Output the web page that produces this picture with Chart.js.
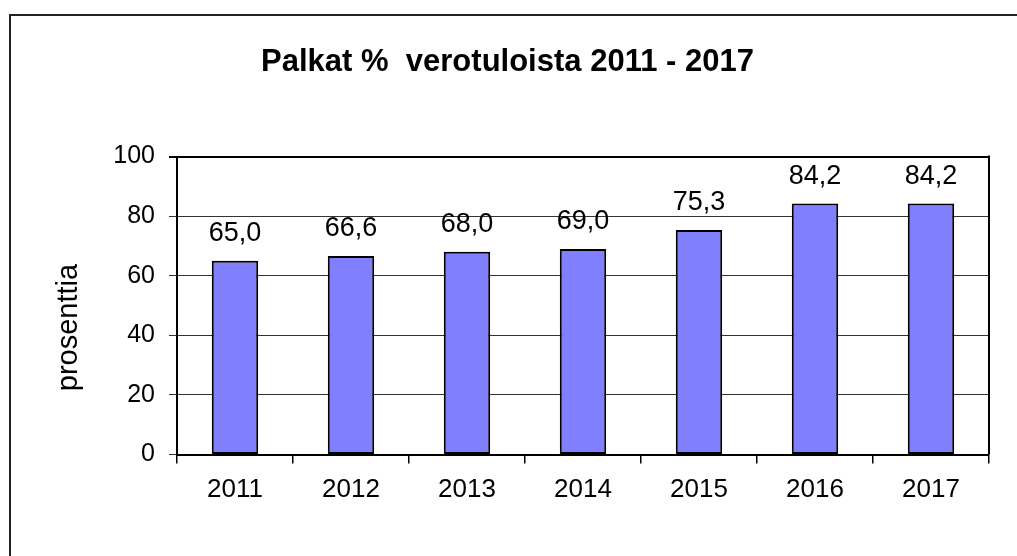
<!DOCTYPE html>
<html>
<head>
<meta charset="utf-8">
<script src="https://cdn.jsdelivr.net/npm/chart.js@4"></script>
<style>
    html, body { margin: 0; padding: 0; background: #fff; }
    #wrap { position: relative; width: 1017px; height: 556px; }
    #frame {
        position: absolute; left: 9px; top: 14px; right: -10px; bottom: -10px;
        border-top: 2px solid #222; border-left: 2px solid #222;
        pointer-events: none;
    }
</style>
</head>
<body>
<div id="wrap">
    <canvas id="mainChart" width="1017" height="556"></canvas>
    <div id="frame"></div>
</div>
<script>
const years = ['2011', '2012', '2013', '2014', '2015', '2016', '2017'];
const palkatPct = [65.0, 66.6, 68.0, 69.0, 75.3, 84.2, 84.2];
const yTicks = [0, 20, 40, 60, 80, 100];

const FONT = "'Liberation Sans', Arial, sans-serif";

// arvot pylväiden päälle
const valueLabels = {
    id: 'valueLabels',
    afterDatasetsDraw(chart) {
        const ctx = chart.ctx;
        const meta = chart.getDatasetMeta(0);
        ctx.save();
        ctx.font = '27px ' + FONT;
        ctx.fillStyle = '#000';
        ctx.textAlign = 'center';
        ctx.textBaseline = 'alphabetic';
        meta.data.forEach((bar, i) => {
            const txt = palkatPct[i].toFixed(1).replace('.', ',');
            ctx.fillText(txt, bar.x, bar.y - 20);
        });
        ctx.restore();
    }
};

// oikea reuna + y-akselin otsikko
const frameAndTitle = {
    id: 'frameAndTitle',
    afterDraw(chart) {
        const ctx = chart.ctx;
        const a = chart.chartArea;
        ctx.save();
        ctx.strokeStyle = '#000';
        ctx.lineWidth = 2;
        ctx.beginPath();
        ctx.moveTo(a.right, a.top - 1);
        ctx.lineTo(a.right, a.bottom);
        ctx.stroke();

        ctx.translate(69, (a.top + a.bottom) / 2 + 22);
        ctx.rotate(-Math.PI / 2);
        ctx.font = '29px ' + FONT;
        ctx.fillStyle = '#000';
        ctx.textAlign = 'center';
        ctx.textBaseline = 'middle';
        ctx.fillText('prosenttia', 0, 0);
        ctx.restore();
    }
};

new Chart(document.getElementById('mainChart').getContext('2d'), {
    type: 'bar',
    data: {
        labels: years,
        datasets: [{
            label: 'Palkat %',
            data: palkatPct,
            backgroundColor: '#8080FF',
            borderColor: '#000',
            borderWidth: 2,
            borderSkipped: false,
            barPercentage: 0.4,
            categoryPercentage: 1.0
        }]
    },
    options: {
        responsive: false,
        animation: false,
        layout: { padding: { left: 26, right: 28, top: 0, bottom: 0 } },
        scales: {
            x: {
                afterFit: s => { s.height = 101.5; },
                grid: {
                    offset: true,
                    drawOnChartArea: false,
                    tickLength: 9,
                    color: '#000',
                    lineWidth: 1.5
                },
                border: { color: '#000', width: 2 },
                ticks: {
                    color: '#000',
                    padding: 11,
                    font: { family: FONT, size: 26 }
                }
            },
            y: {
                min: 0,
                max: 100,
                afterFit: s => { s.width = 151; },
                afterBuildTicks: s => { s.ticks = yTicks.map(v => ({ value: v })); },
                grid: {
                    tickLength: 8,
                    color: ctx => (ctx.tick && ctx.tick.value === 100) ? '#000' : '#333',
                    lineWidth: ctx => (ctx.tick && ctx.tick.value === 100) ? 2 : 1
                },
                border: { color: '#000', width: 2 },
                ticks: {
                    color: '#000',
                    padding: 14,
                    font: { family: FONT, size: 25 }
                }
            }
        },
        plugins: {
            legend: { display: false },
            tooltip: { enabled: false },
            title: {
                display: true,
                text: 'Palkat %  verotuloista 2011 - 2017',
                color: '#000',
                font: { family: FONT, size: 31, weight: 'bold', lineHeight: 1.2 },
                padding: { top: 44, bottom: 75.3 }
            }
        }
    },
    plugins: [valueLabels, frameAndTitle]
});
</script>
</body>
</html>
